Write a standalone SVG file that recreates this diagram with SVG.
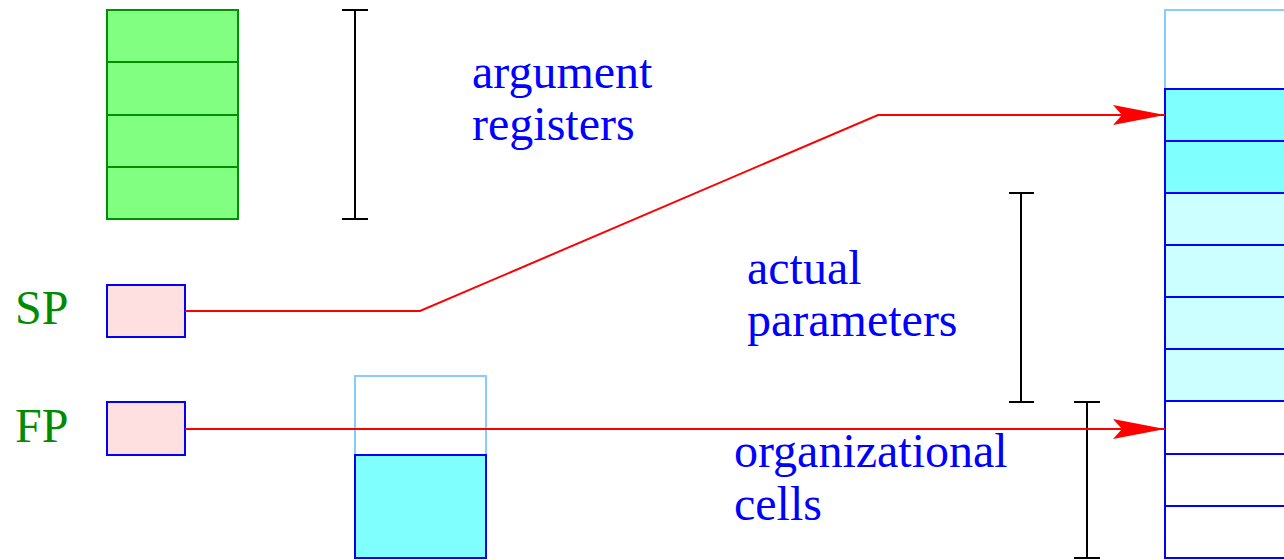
<svg xmlns="http://www.w3.org/2000/svg" width="1284" height="560" viewBox="0 0 1284 560">
<style>
text{font-family:"Liberation Serif","Times New Roman",serif;font-size:48px}
.lbl{fill:#0000ff}
.reg{fill:#008c00}
.g{fill:#80ff80;stroke:#009000;stroke-width:2}
.b{stroke:#0000ff;stroke-width:2}
.lb{fill:none;stroke:#88ccff;stroke-width:2}
.br{stroke:#000;stroke-width:2;fill:none}
.ar{stroke:#ff0000;stroke-width:2;fill:none}
</style>
<defs>
<marker id="ah" markerUnits="userSpaceOnUse" markerWidth="54" markerHeight="24" refX="52" refY="12" orient="auto">
<path d="M0,2 L52,12 L0,22 L9,12 Z" fill="#ff0000"/>
</marker>
</defs>
<g id="argregs">
<rect class="g" x="107" y="10" width="131" height="52"/>
<rect class="g" x="107" y="62" width="131" height="53"/>
<rect class="g" x="107" y="115" width="131" height="52"/>
<rect class="g" x="107" y="167" width="131" height="52"/>
</g>
<g id="bracket-args">
<path class="br" d="M342,10 H368 M355,10 V219 M342,219 H368"/>
</g>
<g id="label-args">
<text class="lbl" x="472" y="88">argument</text>
<text class="lbl" x="472" y="140">registers</text>
</g>
<g id="sp">
<text class="reg" x="15" y="324">SP</text>
<rect class="b" x="107" y="285" width="78" height="52" fill="#ffe0e0"/>
</g>
<g id="fp">
<text class="reg" x="15" y="442">FP</text>
<rect class="b" x="107" y="402" width="78" height="53" fill="#ffe0e0"/>
</g>
<g id="smallstack">
<rect class="lb" x="355" y="376" width="131" height="79"/>
<rect class="b" x="355" y="455" width="131" height="103" fill="#80ffff"/>
</g>
<g id="bracket-params">
<path class="br" d="M1009,193 H1034 M1021,193 V402 M1009,402 H1034"/>
</g>
<g id="label-params">
<text class="lbl" x="747" y="284">actual</text>
<text class="lbl" x="747" y="336">parameters</text>
</g>
<g id="bracket-org">
<path class="br" d="M1074,402 H1100 M1087,402 V558 M1074,558 H1100"/>
</g>
<g id="label-org">
<text class="lbl" x="734" y="467">organizational</text>
<text class="lbl" x="734" y="520">cells</text>
</g>
<g id="stack">
<rect class="lb" x="1165" y="10" width="131" height="79"/>
<rect class="b" x="1165" y="89" width="131" height="52" fill="#80ffff"/>
<rect class="b" x="1165" y="141" width="131" height="52" fill="#80ffff"/>
<rect class="b" x="1165" y="193" width="131" height="52" fill="#ccffff"/>
<rect class="b" x="1165" y="245" width="131" height="52" fill="#ccffff"/>
<rect class="b" x="1165" y="297" width="131" height="52" fill="#ccffff"/>
<rect class="b" x="1165" y="349" width="131" height="52" fill="#ccffff"/>
<rect class="b" x="1165" y="401" width="131" height="53" fill="#ffffff"/>
<rect class="b" x="1165" y="454" width="131" height="52" fill="#ffffff"/>
<rect class="b" x="1165" y="506" width="131" height="52" fill="#ffffff"/>
</g>
<g id="connectors">
<polyline class="ar" points="185,311 420,311 878,115 1165,115" marker-end="url(#ah)"/>
<polyline class="ar" points="185,429 1165,429" marker-end="url(#ah)"/>
</g>
</svg>
